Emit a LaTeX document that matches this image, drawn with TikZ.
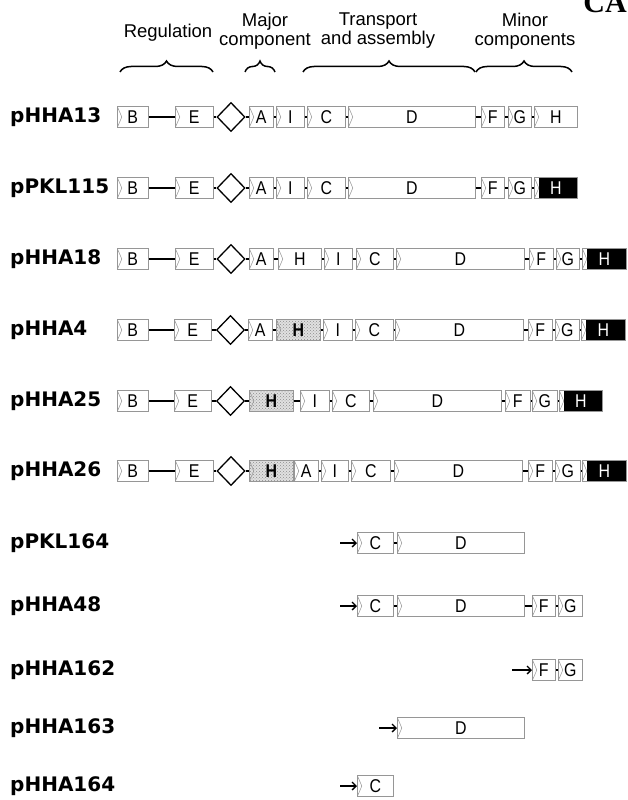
\documentclass[tikz,border=0pt]{standalone}
\usepackage{fontspec}
\setmainfont{Liberation Sans}
\newfontfamily\plasfont{DejaVu Sans}
\newfontfamily\genefont[FakeStretch=0.86]{Liberation Sans}
\newfontfamily\tagfont{Liberation Serif}
\usepackage{tikz}
\usetikzlibrary{shapes.geometric, arrows.meta, decorations.pathreplacing, patterns}
\definecolor{gline}{RGB}{150,150,150}

\begin{document}
\begin{tikzpicture}[x=1pt,y=-1pt,
  font=\genefont\fontsize{18.5}{19}\selectfont,
  gene/.style={draw=gline,line width=0.6pt,fill=white,minimum height=21pt,
               inner sep=0pt,anchor=west,
               path picture={\draw[gline,line width=0.5pt]
                 (path picture bounding box.north west)--([xshift=4.5pt]path picture bounding box.west)
                 --(path picture bounding box.south west);}},
  hblk/.style={gene,text=white,
               path picture={\fill[black] ([xshift=5pt]path picture bounding box.north west)
                 rectangle (path picture bounding box.south east);
                 \draw[gline,line width=0.5pt]
                 (path picture bounding box.north west)--([xshift=4.5pt]path picture bounding box.west)
                 --(path picture bounding box.south west);}},
  hhat/.style={gene,font=\genefont\fontsize{18.5}{19}\selectfont\bfseries,
               preaction={fill=black!12},pattern=crosshatch dots,pattern color=black!45},
  dia/.style={diamond,draw=black,line width=1.3pt,minimum width=28pt,
              minimum height=29pt,inner sep=0pt},
  link/.style={black,line width=1.4pt},
  arr/.style={-{Straight Barb[length=4pt,width=8pt]},black,line width=1.3pt},
  plas/.style={font=\plasfont\fontsize{20}{22}\selectfont\bfseries,anchor=west,inner sep=0pt},
  grp/.style={font=\rmfamily\fontsize{18.5}{19}\selectfont,align=center,inner sep=0pt},
  brc/.style={decorate,decoration={brace,amplitude=11pt},line width=1.5pt}
]
  \useasboundingbox (0,0) rectangle (627,800);
  \clip (0,0) rectangle (627,800);

  % group headings
  \node[grp] (hreg) at (168,33) {Regulation};
  \node[grp] (hmaj) at (265,31) {Major\\component};
  \node[grp] (htra) at (378,31) {Transport\\and assembly};
  \node[grp] (hmin) at (525,31) {Minor\\components};
  \node[font=\tagfont\fontsize{30}{30}\selectfont\bfseries,anchor=base east,inner sep=0pt] (tag) at (627,13) {CA};
  \draw[brc] (120,72)--(213,72);
  \draw[brc] (245,72)--(275,72);
  \draw[brc] (303,72)--(475,72);
  \draw[brc] (476,72)--(572,72);

  % pHHA13
  \node[plas] (l1) at (10,117) {pHHA13};
  \node[gene,minimum width=31pt] (b1) at (117,117) {B};
  \node[gene,minimum width=38pt] (e1) at (175,117) {E};
  \node[dia] (pr1) at (231,117) {};
  \node[gene,minimum width=24pt] (a1) at (249,117) {A};
  \node[gene,minimum width=28pt] (i1) at (276,117) {I};
  \node[gene,minimum width=38pt] (c1) at (307,117) {C};
  \node[gene,minimum width=127pt] (d1) at (348,117) {D};
  \node[gene,minimum width=23pt] (f1) at (481,117) {F};
  \node[gene,minimum width=23pt] (g1) at (508,117) {G};
  \node[gene,minimum width=43pt] (h1) at (534,117) {H};
  \draw[link] (b1.east)--(e1.west) (e1.east)--(pr1.west) (pr1.east)--(a1.west)
    (a1.east)--(i1.west) (i1.east)--(c1.west) (c1.east)--(d1.west)
    (d1.east)--(f1.west) (f1.east)--(g1.west) (g1.east)--(h1.west);

  % pPKL115
  \node[plas] (l2) at (10,188) {pPKL115};
  \node[gene,minimum width=31pt] (b2) at (117,188) {B};
  \node[gene,minimum width=38pt] (e2) at (175,188) {E};
  \node[dia] (pr2) at (231,188) {};
  \node[gene,minimum width=24pt] (a2) at (249,188) {A};
  \node[gene,minimum width=28pt] (i2) at (276,188) {I};
  \node[gene,minimum width=38pt] (c2) at (307,188) {C};
  \node[gene,minimum width=127pt] (d2) at (348,188) {D};
  \node[gene,minimum width=23pt] (f2) at (481,188) {F};
  \node[gene,minimum width=23pt] (g2) at (508,188) {G};
  \node[hblk,minimum width=43pt] (h2) at (534,188) {H};
  \draw[link] (b2.east)--(e2.west) (e2.east)--(pr2.west) (pr2.east)--(a2.west)
    (a2.east)--(i2.west) (i2.east)--(c2.west) (c2.east)--(d2.west)
    (d2.east)--(f2.west) (f2.east)--(g2.west) (g2.east)--(h2.west);

  % pHHA18
  \node[plas] (l3) at (10,259) {pHHA18};
  \node[gene,minimum width=31pt] (b3) at (117,259) {B};
  \node[gene,minimum width=38pt] (e3) at (175,259) {E};
  \node[dia] (pr3) at (231,259) {};
  \node[gene,minimum width=24pt] (a3) at (249,259) {A};
  \node[gene,minimum width=43pt] (hm3) at (278,259) {H};
  \node[gene,minimum width=28pt] (i3) at (324,259) {I};
  \node[gene,minimum width=37pt] (c3) at (356,259) {C};
  \node[gene,minimum width=128pt] (d3) at (396,259) {D};
  \node[gene,minimum width=24pt] (f3) at (529,259) {F};
  \node[gene,minimum width=23pt] (g3) at (556,259) {G};
  \node[hblk,minimum width=44pt] (h3) at (582,259) {H};
  \draw[link] (b3.east)--(e3.west) (e3.east)--(pr3.west) (pr3.east)--(a3.west)
    (a3.east)--(hm3.west) (hm3.east)--(i3.west) (i3.east)--(c3.west) (c3.east)--(d3.west)
    (d3.east)--(f3.west) (f3.east)--(g3.west) (g3.east)--(h3.west);

  % pHHA4
  \node[plas] (l4) at (10,330) {pHHA4};
  \node[gene,minimum width=31pt] (b4) at (117,330) {B};
  \node[gene,minimum width=37pt] (e4) at (174,330) {E};
  \node[dia] (pr4) at (230.5,330) {};
  \node[gene,minimum width=24pt] (a4) at (248,330) {A};
  \node[hhat,minimum width=44pt] (hm4) at (276,330) {H};
  \node[gene,minimum width=29pt] (i4) at (323,330) {I};
  \node[gene,minimum width=38pt] (c4) at (355,330) {C};
  \node[gene,minimum width=128pt] (d4) at (395,330) {D};
  \node[gene,minimum width=24pt] (f4) at (528,330) {F};
  \node[gene,minimum width=24pt] (g4) at (555,330) {G};
  \node[hblk,minimum width=44pt] (h4) at (581,330) {H};
  \draw[link] (b4.east)--(e4.west) (e4.east)--(pr4.west) (pr4.east)--(a4.west)
    (a4.east)--(hm4.west) (hm4.east)--(i4.west) (i4.east)--(c4.west) (c4.east)--(d4.west)
    (d4.east)--(f4.west) (f4.east)--(g4.west) (g4.east)--(h4.west);

  % pHHA25
  \node[plas] (l5) at (10,401) {pHHA25};
  \node[gene,minimum width=31pt] (b5) at (117,401) {B};
  \node[gene,minimum width=37pt] (e5) at (174,401) {E};
  \node[dia] (pr5) at (230.5,401) {};
  \node[hhat,minimum width=44pt] (hm5) at (249,401) {H};
  \node[gene,minimum width=29pt] (i5) at (300,401) {I};
  \node[gene,minimum width=37pt] (c5) at (332,401) {C};
  \node[gene,minimum width=128pt] (d5) at (373,401) {D};
  \node[gene,minimum width=25pt] (f5) at (505,401) {F};
  \node[gene,minimum width=25pt] (g5) at (532,401) {G};
  \node[hblk,minimum width=43pt] (h5) at (559,401) {H};
  \draw[link] (b5.east)--(e5.west) (e5.east)--(pr5.west) (pr5.east)--(hm5.west)
    (hm5.east)--(i5.west) (i5.east)--(c5.west) (c5.east)--(d5.west)
    (d5.east)--(f5.west) (f5.east)--(g5.west) (g5.east)--(h5.west);

  % pHHA26
  \node[plas] (l6) at (10,471) {pHHA26};
  \node[gene,minimum width=31pt] (b6) at (117,471) {B};
  \node[gene,minimum width=38pt] (e6) at (175,471) {E};
  \node[dia] (pr6) at (231,471) {};
  \node[hhat,minimum width=44pt] (hm6) at (249,471) {H};
  \node[gene,minimum width=24pt] (a6) at (294,471) {A};
  \node[gene,minimum width=27pt] (i6) at (321,471) {I};
  \node[gene,minimum width=39pt] (c6) at (351,471) {C};
  \node[gene,minimum width=128pt] (d6) at (394,471) {D};
  \node[gene,minimum width=24pt] (f6) at (528,471) {F};
  \node[gene,minimum width=25pt] (g6) at (555,471) {G};
  \node[hblk,minimum width=44pt] (h6) at (582,471) {H};
  \draw[link] (b6.east)--(e6.west) (e6.east)--(pr6.west) (pr6.east)--(hm6.west)
    (a6.east)--(i6.west) (i6.east)--(c6.west) (c6.east)--(d6.west)
    (d6.east)--(f6.west) (f6.east)--(g6.west) (g6.east)--(h6.west);

  % pPKL164
  \node[plas] (l7) at (10,543) {pPKL164};
  \coordinate (s7) at (340,543);
  \node[gene,minimum width=36pt] (c7) at (357,543) {C};
  \node[gene,minimum width=127pt] (d7) at (397,543) {D};
  \draw[arr] (s7)--(c7.west);
  \draw[link] (c7.east)--(d7.west);

  % pHHA48
  \node[plas] (l8) at (10,606) {pHHA48};
  \coordinate (s8) at (340,606);
  \node[gene,minimum width=36pt] (c8) at (357,606) {C};
  \node[gene,minimum width=127pt] (d8) at (397,606) {D};
  \node[gene,minimum width=23pt] (f8) at (532,606) {F};
  \node[gene,minimum width=24pt] (g8) at (558,606) {G};
  \draw[arr] (s8)--(c8.west);
  \draw[link] (c8.east)--(d8.west) (d8.east)--(f8.west) (f8.east)--(g8.west);

  % pHHA162
  \node[plas] (l9) at (10,670) {pHHA162};
  \coordinate (s9) at (512,670);
  \node[gene,minimum width=23pt] (f9) at (532,670) {F};
  \node[gene,minimum width=24pt] (g9) at (558,670) {G};
  \draw[arr] (s9)--(f9.west);
  \draw[link] (f9.east)--(g9.west);

  % pHHA163
  \node[plas] (l10) at (10,728) {pHHA163};
  \coordinate (s10) at (379,728);
  \node[gene,minimum width=127pt] (d10) at (397,728) {D};
  \draw[arr] (s10)--(d10.west);

  % pHHA164
  \node[plas] (l11) at (10,786) {pHHA164};
  \coordinate (s11) at (340,786);
  \node[gene,minimum width=36pt] (c11) at (357,786) {C};
  \draw[arr] (s11)--(c11.west);
\end{tikzpicture}
\end{document}
